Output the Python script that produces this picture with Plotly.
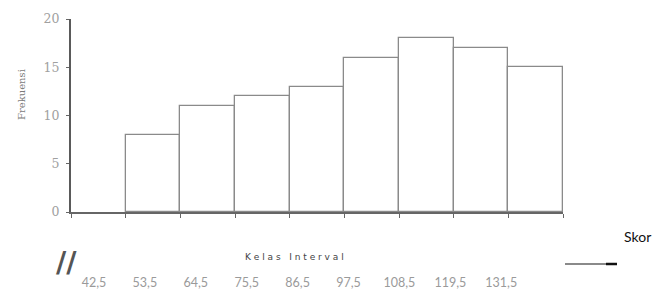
import plotly.graph_objects as go

# Data
frekuensi = [8, 11, 12, 13, 16, 18, 17, 15]
batas_kelas = ["42,5", "53,5", "64,5", "75,5", "86,5", "97,5", "108,5", "119,5", "131,5"]
y_ticks = [0, 5, 10, 15, 20]

bar_x = [i + 1.5 for i in range(len(frekuensi))]

W, H = 667, 289
OFF = 8  # page body margin
L, R, T, B = 71 - OFF, 563 - OFF, 19 - OFF, 212 - OFF

def px(x):
    return (x - OFF - L) / (R - L)

def py(y):
    return (B - (y - OFF)) / (B - T)

fig = go.Figure()
fig.add_trace(go.Bar(
    x=bar_x, y=frekuensi, width=1,
    marker=dict(color="white", line=dict(color="#8a8a8a", width=1.3)),
    showlegend=False, hoverinfo="skip",
))
# invisible trace for xaxis2 labels
fig.add_trace(go.Scatter(x=[0], y=[0], xaxis="x2", mode="markers",
                         marker=dict(opacity=0), showlegend=False, hoverinfo="skip"))

fig.update_layout(
    width=W, height=H,
    margin=dict(l=L, r=W - R, t=T, b=H - B, pad=0, autoexpand=False),
    paper_bgcolor="white", plot_bgcolor="white",
    bargap=0,
    xaxis=dict(range=[0, 9], tickvals=list(range(10)), showticklabels=False,
               showline=True, linecolor="#666666", linewidth=1.6,
               ticks="outside", ticklen=4, tickcolor="#666666", tickwidth=1.2,
               showgrid=False, zeroline=False, fixedrange=True, automargin=False),
    xaxis2=dict(overlaying="x", anchor="y", side="bottom",
                range=[-0.452, 9.214], tickvals=list(range(len(batas_kelas))),
                ticktext=batas_kelas, showline=False, showgrid=False, zeroline=False,
                ticks="outside", ticklen=59, tickcolor="rgba(0,0,0,0)", automargin=False,
                tickfont=dict(family="Lato", size=12.5, color="#9a9a9a")),
    yaxis=dict(range=[0, 20], tickvals=y_ticks, showline=True, linecolor="#5a5a5a",
               linewidth=2, ticks="outside", ticklen=3, tickcolor="#666666",
               showgrid=False, zeroline=False, automargin=False, ticklabelstandoff=4,
               tickfont=dict(family="DejaVu Serif", size=12.5, color="#a0a0a0")),
    font=dict(family="Lato"),
)

ann = dict(xref="paper", yref="paper", showarrow=False, xanchor="center", yanchor="middle")
fig.add_annotation(text="Frekuensi", textangle=-90, x=px(22), y=py(95),
                   font=dict(family="DejaVu Serif", size=10, color="#7a7a7a"), **ann)
fig.add_annotation(text="K e l a s   I n t e r v a l", x=px(294), y=py(257),
                   font=dict(family="DejaVu Sans", size=9, color="#444444"), **ann)
fig.add_annotation(text="<b>//</b>", x=px(66), y=py(262),
                   font=dict(family="DejaVu Sans", size=28, color="#555555"), **ann)
fig.add_annotation(text="Skor", x=px(637), y=py(236),
                   font=dict(family="Lato", size=14, color="#111111"), **ann)
fig.add_shape(type="line", xref="paper", yref="paper",
              x0=px(565), x1=px(608), y0=py(264), y1=py(264),
              line=dict(color="#8a8a8a", width=2))
fig.add_shape(type="line", xref="paper", yref="paper",
              x0=px(606), x1=px(617), y0=py(264), y1=py(264),
              line=dict(color="#111111", width=2.5))

fig.write_html("out.html")
